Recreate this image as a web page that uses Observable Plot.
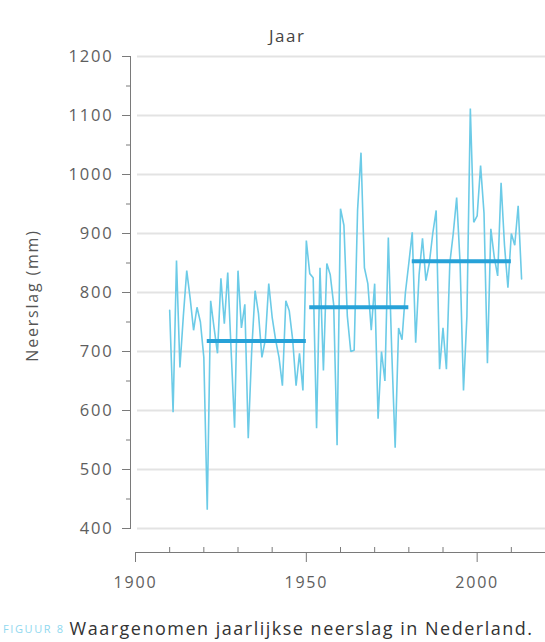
<!DOCTYPE html>
<html>
<head>
<meta charset="utf-8">
<script src="https://cdn.jsdelivr.net/npm/d3@7"></script>
<script src="https://cdn.jsdelivr.net/npm/@observablehq/plot@0.6"></script>
<style>
  html, body { margin: 0; padding: 0; background: #fff; }
  #wrap { position: relative; width: 545px; height: 642px; font-family: "Open Sans", Lato, sans-serif; }
  #title { position: absolute; left: 0; top: 0; width: 545px; height: 45px; }
  #title span { position: absolute; left: 269px; top: 24px; font-size: 17px; letter-spacing: 1.5px; color: #444; }
  #chart { position: absolute; left: 0; top: 45px; }
  #chart svg { font-variant-numeric: oldstyle-nums; }
  #chart svg text { letter-spacing: 1.8px; }
  #caption { position: absolute; left: 3px; top: 616px; font-size: 18px; letter-spacing: 1.5px; color: #333; white-space: nowrap; }
  #caption .fig { font-size: 11px; color: #8fd8ef; letter-spacing: 1.6px; margin-right: 5px; vertical-align: 2px; }
</style>
</head>
<body>
<div id="wrap">
  <div id="title"><span id="titleText"></span></div>
  <div id="chart"></div>
  <div id="caption"><span class="fig" id="figLabel"></span><span id="capText"></span></div>
</div>
<script>
// ---- data ----
const firstYear = 1910;
const neerslag = [
  770, 597, 854, 673, 760, 837, 790, 736, 775, 750,   // 1910-1919
  690, 432, 786, 740, 697, 824, 747, 834, 700, 571,   // 1920-1929
  837, 740, 780, 553, 700, 803, 764, 690, 720, 815,   // 1930-1939
  758, 720, 690, 642, 786, 769, 720, 642, 697, 634,   // 1940-1949
  888, 832, 825, 570, 842, 668, 849, 830, 780, 541,   // 1950-1959
  942, 914, 760, 700, 702, 940, 1037, 842, 815, 736,  // 1960-1969
  815, 586, 700, 650, 893, 700, 537, 740, 720, 800,   // 1970-1979
  850, 902, 715, 830, 892, 820, 850, 900, 939, 670,   // 1980-1989
  740, 670, 850, 900, 961, 850, 634, 760, 1112, 919,  // 1990-1999
  930, 1015, 935, 680, 908, 860, 828, 986, 880, 808,  // 2000-2009
  900, 880, 947, 823                                   // 2010-2013
];
const years = neerslag.map((_, i) => firstYear + i);

const periodStart = [1921, 1951, 1981];
const periodEnd   = [1950, 1980, 2010];
const periodMean  = [718, 775, 853];

const yTicks = [400, 500, 600, 700, 800, 900, 1000, 1100, 1200];
const yMinorTicks = [450, 550, 650, 750, 850, 950, 1050, 1150];
const xTicks = [1900, 1950, 2000];
const xMinorTicks = [1910, 1920, 1930, 1940, 1960, 1970, 1980, 1990, 2010];

const titleText = "Jaar";
const yLabel = "Neerslag (mm)";
const figLabel = "FIGUUR 8";
const captionText = "Waargenomen jaarlijkse neerslag in Nederland.";

// ---- tables ----
const series = years.map((year, i) => ({year, value: neerslag[i]}));
const periods = periodStart.map((s, i) => ({start: s, end: periodEnd[i], mean: periodMean[i]}));

document.getElementById("titleText").textContent = titleText;
document.getElementById("figLabel").textContent = figLabel;
document.getElementById("capText").textContent = captionText;

const lineColor = "#6ccbe7";
const meanColor = "#27a2d8";
const axisColor = "#7a7a7a";

const chart = Plot.plot({
  width: 545,
  height: 560,
  marginLeft: 130,
  marginRight: 0,
  marginTop: 11,
  marginBottom: 53,
  style: { fontFamily: "'Open Sans', Lato, sans-serif", fontSize: "16px", color: "#5e5e5e", background: "white" },
  x: { domain: [1900, 2020], range: [135, 545], axis: null, label: null },
  y: { domain: [400, 1200], range: [483, 11], axis: null, label: null },
  marks: [
    Plot.gridY(yTicks, { insetLeft: 7, stroke: "#e3e3e3", strokeOpacity: 1, strokeWidth: 2 }),
    Plot.frame({ anchor: "left", insetBottom: 24, stroke: axisColor }),
    Plot.frame({ anchor: "bottom", insetLeft: 5, stroke: axisColor }),
    Plot.axisY(yTicks, { tickSize: 8, tickPadding: 9, label: null, fontSize: 16.5, stroke: axisColor, tickFormat: d => String(d) }),
    Plot.axisY(yMinorTicks, { tickSize: 4, label: null, stroke: axisColor, tickFormat: () => "" }),
    Plot.axisX(xTicks, { tickSize: 10, tickPadding: 14, label: null, fontSize: 16, stroke: axisColor, tickFormat: d => String(d) }),
    Plot.ruleX(xMinorTicks, { x: d => d, insetTop: 491, stroke: axisColor }),
    Plot.text([yLabel], { frameAnchor: "left", rotate: -90, dx: -98, dy: -9, textAnchor: "middle", fontSize: 16, fill: "#555" }),
    Plot.line(series, { x: "year", y: "value", stroke: lineColor, strokeWidth: 1.6, strokeLinejoin: "miter" }),
    Plot.ruleY(periods, { x1: "start", x2: "end", y: "mean", stroke: meanColor, strokeWidth: 4 })
  ]
});
document.getElementById("chart").appendChild(chart);
</script>
</body>
</html>
